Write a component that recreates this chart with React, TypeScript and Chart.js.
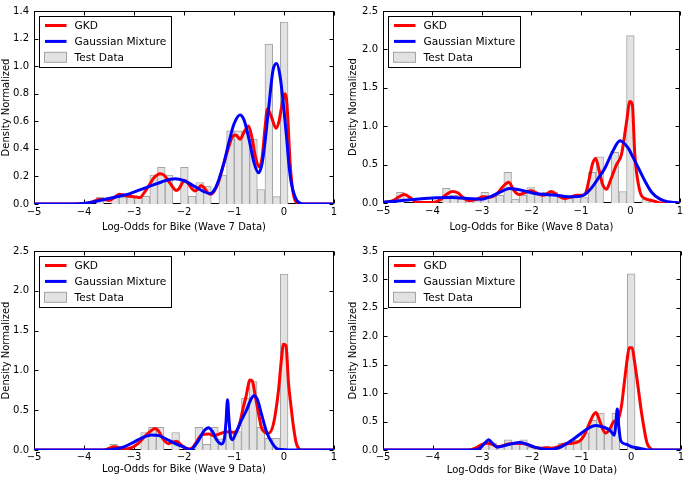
import React, { useEffect, useRef } from 'react';
import { Chart, registerables } from 'chart.js';

Chart.register(...registerables);
Chart.defaults.font.family = '"DejaVu Sans", sans-serif';
Chart.defaults.color = '#000';

// ---------------- shared ----------------
const X_TICKS = [-5, -4, -3, -2, -1, 0, 1];
const LEGEND_ORDER = ['GKD', 'Gaussian Mixture', 'Test Data'];
const Y_LABEL = 'Density Normalized';

// ---------------- Wave 7 ----------------
const W7_TITLE = 'Log-Odds for Bike (Wave 7 Data)';
const W7_Y_TICKS = [0, 0.2, 0.4, 0.6, 0.8, 1.0, 1.2, 1.4];
const W7_HIST_START = -3.7575;
const W7_HIST_WIDTH = 0.1535;
const W7_HIST = [0.05, 0, 0.05, 0.05, 0.05, 0.05, 0.055, 0.21, 0.266, 0.21, 0, 0.266, 0.056, 0.156, 0.13, 0, 0.21, 0.53, 0.53, 0.53, 0.47, 0.105, 1.16, 0.053, 1.32];
const W7_GKD: [number, number][] = [[-5, 0], [-4.2, 0], [-3.95, 0.005], [-3.8, 0.02], [-3.68, 0.035], [-3.58, 0.03], [-3.5, 0.025], [-3.4, 0.045], [-3.29, 0.07], [-3.18, 0.062], [-3.08, 0.056], [-2.95, 0.05], [-2.88, 0.047], [-2.8, 0.08], [-2.71, 0.13], [-2.6, 0.19], [-2.48, 0.22], [-2.4, 0.21], [-2.31, 0.168], [-2.22, 0.12], [-2.16, 0.098], [-2.1, 0.11], [-2.03, 0.155], [-1.98, 0.168], [-1.92, 0.15], [-1.85, 0.115], [-1.78, 0.095], [-1.72, 0.11], [-1.66, 0.135], [-1.6, 0.12], [-1.53, 0.085], [-1.47, 0.07], [-1.4, 0.09], [-1.3, 0.17], [-1.2, 0.3], [-1.1, 0.42], [-1.03, 0.49], [-0.96, 0.5], [-0.88, 0.47], [-0.8, 0.52], [-0.71, 0.565], [-0.64, 0.48], [-0.57, 0.34], [-0.5, 0.27], [-0.44, 0.33], [-0.38, 0.55], [-0.33, 0.69], [-0.25, 0.63], [-0.16, 0.55], [-0.1, 0.6], [-0.04, 0.72], [0.02, 0.8], [0.05, 0.76], [0.08, 0.6], [0.12, 0.31], [0.16, 0.14], [0.2, 0.05], [0.25, 0.01], [0.3, 0], [1, 0]];
const W7_GMM: [number, number][] = [[-5, 0], [-4.2, 0], [-4.0, 0.003], [-3.75, 0.02], [-3.5, 0.04], [-3.2, 0.065], [-3.08, 0.075], [-2.9, 0.1], [-2.68, 0.13], [-2.45, 0.16], [-2.18, 0.184], [-2.0, 0.17], [-1.8, 0.13], [-1.6, 0.09], [-1.47, 0.075], [-1.38, 0.11], [-1.3, 0.18], [-1.2, 0.3], [-1.1, 0.45], [-1.0, 0.58], [-0.88, 0.646], [-0.8, 0.61], [-0.7, 0.47], [-0.6, 0.3], [-0.51, 0.226], [-0.44, 0.29], [-0.38, 0.45], [-0.3, 0.72], [-0.22, 0.97], [-0.147, 1.02], [-0.08, 0.93], [0.0, 0.68], [0.05, 0.49], [0.1, 0.28], [0.15, 0.145], [0.25, 0.03], [0.35, 0.003], [0.45, 0], [1, 0]];

// ---------------- Wave 8 ----------------
const W8_TITLE = 'Log-Odds for Bike (Wave 8 Data)';
const W8_Y_TICKS = [0, 0.5, 1.0, 1.5, 2.0, 2.5];
const W8_HIST_START = -4.727;
const W8_HIST_WIDTH = 0.155;
const W8_HIST = [0.14, 0, 0, 0, 0, 0, 0.19, 0.1, 0.05, 0.03, 0.03, 0.14, 0.08, 0.1, 0.4, 0.05, 0.1, 0.2, 0.13, 0.14, 0.14, 0.08, 0.06, 0.08, 0.07, 0.4, 0.6, 0, 0.66, 0.15, 2.18, 0, 0.05, 0.03];
const W8_GKD: [number, number][] = [[-5, 0.01], [-4.8, 0.03], [-4.68, 0.08], [-4.57, 0.11], [-4.45, 0.07], [-4.32, 0.01], [-4.0, 0.005], [-3.85, 0.04], [-3.72, 0.11], [-3.6, 0.15], [-3.48, 0.13], [-3.38, 0.07], [-3.25, 0.03], [-3.1, 0.05], [-2.98, 0.08], [-2.85, 0.075], [-2.7, 0.12], [-2.58, 0.21], [-2.46, 0.27], [-2.35, 0.16], [-2.25, 0.11], [-2.15, 0.13], [-2.0, 0.16], [-1.87, 0.12], [-1.75, 0.1], [-1.6, 0.15], [-1.47, 0.1], [-1.33, 0.06], [-1.2, 0.08], [-1.08, 0.1], [-0.98, 0.1], [-0.91, 0.12], [-0.82, 0.35], [-0.76, 0.52], [-0.7, 0.58], [-0.63, 0.42], [-0.56, 0.24], [-0.48, 0.18], [-0.4, 0.3], [-0.28, 0.5], [-0.18, 0.63], [-0.08, 1.04], [-0.01, 1.32], [0.04, 1.28], [0.09, 0.63], [0.19, 0.16], [0.29, 0.06], [0.4, 0.04], [0.5, 0.02], [0.6, 0], [1, 0]];
const W8_GMM: [number, number][] = [[-5, 0.01], [-4.5, 0.04], [-4.0, 0.065], [-3.6, 0.07], [-3.3, 0.06], [-3.0, 0.05], [-2.8, 0.09], [-2.6, 0.15], [-2.45, 0.19], [-2.3, 0.18], [-2.1, 0.15], [-1.9, 0.12], [-1.5, 0.1], [-1.18, 0.08], [-1.0, 0.09], [-0.9, 0.12], [-0.78, 0.2], [-0.65, 0.32], [-0.51, 0.46], [-0.35, 0.68], [-0.21, 0.81], [-0.05, 0.72], [0.05, 0.6], [0.16, 0.46], [0.3, 0.28], [0.43, 0.14], [0.6, 0.05], [0.76, 0.016], [0.9, 0.005], [1, 0]];

// ---------------- Wave 9 ----------------
const W9_TITLE = 'Log-Odds for Bike (Wave 9 Data)';
const W9_Y_TICKS = [0, 0.5, 1.0, 1.5, 2.0, 2.5];
const W9_HIST_START = -3.485;
const W9_HIST_WIDTH = 0.155;
const W9_HIST = [0.07, 0, 0, 0, 0.22, 0.285, 0.285, 0, 0.22, 0, 0, 0.285, 0.07, 0.285, 0.14, 0.23, 0.23, 0.65, 0.86, 0.285, 0.147, 0.147, 2.21];
const W9_GKD: [number, number][] = [[-5, 0], [-3.6, 0], [-3.5, 0.02], [-3.4, 0.04], [-3.3, 0.03], [-3.2, 0.01], [-3.05, 0.03], [-2.92, 0.08], [-2.8, 0.16], [-2.68, 0.23], [-2.58, 0.27], [-2.5, 0.23], [-2.42, 0.14], [-2.31, 0.08], [-2.22, 0.1], [-2.15, 0.11], [-2.05, 0.06], [-1.95, 0.015], [-1.85, 0.02], [-1.75, 0.1], [-1.65, 0.19], [-1.5, 0.2], [-1.4, 0.18], [-1.3, 0.2], [-1.15, 0.23], [-1.0, 0.22], [-0.9, 0.3], [-0.82, 0.52], [-0.76, 0.67], [-0.68, 0.88], [-0.63, 0.86], [-0.57, 0.66], [-0.51, 0.46], [-0.45, 0.28], [-0.38, 0.22], [-0.31, 0.21], [-0.21, 0.33], [-0.11, 0.75], [-0.05, 1.15], [-0.01, 1.33], [0.04, 1.31], [0.09, 0.84], [0.14, 0.55], [0.19, 0.29], [0.24, 0.1], [0.29, 0.02], [0.35, 0], [1, 0]];
const W9_GMM: [number, number][] = [[-5, 0], [-3.6, 0], [-3.4, 0.01], [-3.2, 0.04], [-3.0, 0.1], [-2.85, 0.15], [-2.65, 0.19], [-2.5, 0.18], [-2.3, 0.12], [-2.1, 0.06], [-1.95, 0.02], [-1.88, 0.0], [-1.8, 0.04], [-1.7, 0.13], [-1.6, 0.24], [-1.51, 0.28], [-1.43, 0.23], [-1.35, 0.13], [-1.25, 0.075], [-1.19, 0.15], [-1.16, 0.35], [-1.13, 0.63], [-1.1, 0.38], [-1.07, 0.17], [-1.03, 0.13], [-0.97, 0.2], [-0.87, 0.35], [-0.75, 0.5], [-0.65, 0.65], [-0.6, 0.68], [-0.53, 0.63], [-0.45, 0.45], [-0.35, 0.23], [-0.25, 0.1], [-0.15, 0.02], [-0.05, 0.005], [0.1, 0], [1, 0]];

// ---------------- Wave 10 ----------------
const W10_TITLE = 'Log-Odds for Bike (Wave 10 Data)';
const W10_Y_TICKS = [0, 0.5, 1.0, 1.5, 2.0, 2.5, 3.0, 3.5];
const W10_HIST_START = -3.022;
const W10_HIST_WIDTH = 0.155;
const W10_HIST = [0.12, 0.12, 0.08, 0.18, 0.1, 0.18, 0.05, 0.03, 0.06, 0.05, 0.12, 0.13, 0.17, 0.3, 0.52, 0.65, 0.32, 0.65, 0, 3.1];
const W10_GKD: [number, number][] = [[-5, 0], [-3.3, 0], [-3.15, 0.03], [-3.0, 0.1], [-2.9, 0.12], [-2.8, 0.1], [-2.7, 0.06], [-2.6, 0.07], [-2.5, 0.1], [-2.3, 0.12], [-2.1, 0.1], [-1.95, 0.05], [-1.8, 0.03], [-1.7, 0.04], [-1.6, 0.03], [-1.5, 0.05], [-1.35, 0.1], [-1.2, 0.12], [-1.05, 0.15], [-0.95, 0.25], [-0.85, 0.45], [-0.76, 0.62], [-0.71, 0.66], [-0.65, 0.55], [-0.57, 0.36], [-0.51, 0.3], [-0.43, 0.37], [-0.35, 0.5], [-0.27, 0.53], [-0.2, 0.75], [-0.14, 1.17], [-0.08, 1.6], [-0.04, 1.8], [0.02, 1.8], [0.06, 1.6], [0.12, 1.23], [0.22, 0.59], [0.32, 0.12], [0.4, 0.02], [0.45, 0], [1, 0]];
const W10_GMM: [number, number][] = [[-5, 0], [-3.2, 0], [-3.05, 0.03], [-2.95, 0.12], [-2.87, 0.18], [-2.8, 0.12], [-2.69, 0.05], [-2.55, 0.08], [-2.35, 0.12], [-2.25, 0.13], [-2.1, 0.1], [-1.95, 0.05], [-1.85, 0.03], [-1.7, 0.01], [-1.55, 0.02], [-1.4, 0.06], [-1.18, 0.18], [-1.0, 0.3], [-0.85, 0.39], [-0.71, 0.43], [-0.55, 0.4], [-0.42, 0.34], [-0.34, 0.26], [-0.31, 0.45], [-0.28, 0.72], [-0.25, 0.42], [-0.21, 0.16], [-0.1, 0.1], [0.0, 0.06], [0.16, 0.03], [0.3, 0.005], [0.45, 0], [1, 0]];

// ---------------- types & layout ----------------
type PanelData = {
  xTitle: string;
  yTicks: number[];
  histStart: number;
  histWidth: number;
  hist: number[];
  gkd: [number, number][];
  gmm: [number, number][];
};
type PanelLayout = {
  left: number; top: number; width: number; height: number;
  padTop: number; padRight: number; yAxisW: number; xAxisH: number;
  yTitlePad: number; xTitlePad: number; xTickPad: number;
};

const PANELS: { data: PanelData; layout: PanelLayout }[] = [
  {
    data: { xTitle: W7_TITLE, yTicks: W7_Y_TICKS, histStart: W7_HIST_START, histWidth: W7_HIST_WIDTH, hist: W7_HIST, gkd: W7_GKD, gmm: W7_GMM },
    layout: { left: 0, top: 0, width: 342, height: 240, padTop: 4, padRight: 8, yAxisW: 34, xAxisH: 36, yTitlePad: 0, xTitlePad: 6.5, xTickPad: 2 },
  },
  {
    data: { xTitle: W8_TITLE, yTicks: W8_Y_TICKS, histStart: W8_HIST_START, histWidth: W8_HIST_WIDTH, hist: W8_HIST, gkd: W8_GKD, gmm: W8_GMM },
    layout: { left: 342, top: 0, width: 343, height: 240, padTop: 4, padRight: 3, yAxisW: 41, xAxisH: 37, yTitlePad: 5, xTitlePad: 6.5, xTickPad: 2 },
  },
  {
    data: { xTitle: W9_TITLE, yTicks: W9_Y_TICKS, histStart: W9_HIST_START, histWidth: W9_HIST_WIDTH, hist: W9_HIST, gkd: W9_GKD, gmm: W9_GMM },
    layout: { left: 0, top: 240, width: 342, height: 239, padTop: 11, padRight: 8, yAxisW: 34, xAxisH: 29, yTitlePad: 0, xTitlePad: 4, xTickPad: 1 },
  },
  {
    data: { xTitle: W10_TITLE, yTicks: W10_Y_TICKS, histStart: W10_HIST_START, histWidth: W10_HIST_WIDTH, hist: W10_HIST, gkd: W10_GKD, gmm: W10_GMM },
    layout: { left: 342, top: 240, width: 343, height: 239, padTop: 11, padRight: 3, yAxisW: 41, xAxisH: 29, yTitlePad: 5, xTitlePad: 3, xTickPad: 1 },
  },
];

// ---------------- plugins ----------------
const framePlugin = {
  id: 'mplFrame',
  beforeDatasetsDraw(chart: any) {
    const { ctx, chartArea: a, scales } = chart;
    const xs = scales.x, ys = scales.y;
    const L = Math.round(a.left) + 0.5, R = Math.round(a.right) - 0.5;
    const T = Math.round(a.top) + 0.5, B = Math.round(a.bottom) - 0.5;
    ctx.save();
    ctx.strokeStyle = '#000';
    ctx.lineWidth = 1;
    ctx.strokeRect(L, T, R - L, B - T);
    ctx.beginPath();
    xs.ticks.forEach((t: any) => {
      const px = Math.round(xs.getPixelForValue(t.value)) + 0.5;
      ctx.moveTo(px, B); ctx.lineTo(px, B - 4);
      ctx.moveTo(px, T); ctx.lineTo(px, T + 4);
    });
    ys.ticks.forEach((t: any) => {
      const py = Math.round(ys.getPixelForValue(t.value)) + 0.5;
      ctx.moveTo(L, py); ctx.lineTo(L + 4, py);
      ctx.moveTo(R, py); ctx.lineTo(R - 4, py);
    });
    ctx.stroke();
    ctx.restore();
  },
};

const legendPlugin = {
  id: 'mplLegend',
  afterDraw(chart: any) {
    const { ctx, chartArea: a } = chart;
    const items = LEGEND_ORDER.map((lbl) => chart.data.datasets.find((d: any) => d.label === lbl)).filter(Boolean);
    ctx.save();
    ctx.font = '10.6px "DejaVu Sans", sans-serif';
    const textW = Math.max(...items.map((d: any) => ctx.measureText(d.label).width));
    const bx = Math.round(a.left + 5) + 0.5;
    const by = Math.round(a.top + 5) + 0.5;
    const bw = Math.round(35 + textW + 5);
    const bh = 51;
    ctx.fillStyle = '#fff';
    ctx.fillRect(bx, by, bw, bh);
    ctx.strokeStyle = '#000';
    ctx.lineWidth = 1;
    ctx.strokeRect(bx, by, bw, bh);
    items.forEach((d: any, i: number) => {
      const cy = by + 9 + i * 15.9;
      if (d.type === 'line') {
        ctx.strokeStyle = d.borderColor;
        ctx.lineWidth = 3;
        ctx.beginPath();
        ctx.moveTo(bx + 5.5, cy);
        ctx.lineTo(bx + 27, cy);
        ctx.stroke();
      } else {
        ctx.fillStyle = d.backgroundColor;
        ctx.fillRect(bx + 5, cy - 5, 22, 10);
        ctx.strokeStyle = d.borderColor;
        ctx.lineWidth = 1;
        ctx.strokeRect(bx + 5, cy - 5, 22, 10);
      }
      ctx.fillStyle = '#000';
      ctx.textBaseline = 'middle';
      ctx.textAlign = 'left';
      ctx.fillText(d.label, bx + 35, cy + 0.5);
    });
    ctx.restore();
  },
};

const fmtX = (v: number) => (v < 0 ? '\u2212' + Math.abs(v) : String(v));

function Panel({ data, layout }: { data: PanelData; layout: PanelLayout }) {
  const ref = useRef<HTMLCanvasElement>(null);
  useEffect(() => {
    const bars = data.hist
      .map((h, i) => ({ x: data.histStart + data.histWidth * (i + 0.5), y: h }))
      .filter((d) => d.y > 0);
    const toPts = (arr: [number, number][]) => arr.map(([x, y]) => ({ x, y }));
    const yMax = data.yTicks[data.yTicks.length - 1];
    const chart = new Chart(ref.current as HTMLCanvasElement, {
      type: 'bar',
      data: {
        datasets: [
          {
            type: 'line', label: 'Gaussian Mixture', data: toPts(data.gmm),
            borderColor: '#0000ff', borderWidth: 3, pointRadius: 0, fill: false,
            cubicInterpolationMode: 'monotone', borderJoinStyle: 'round', order: 0,
          } as any,
          {
            type: 'line', label: 'GKD', data: toPts(data.gkd),
            borderColor: '#ff0000', borderWidth: 3, pointRadius: 0, fill: false,
            cubicInterpolationMode: 'monotone', borderJoinStyle: 'round', order: 1,
          } as any,
          {
            type: 'bar', label: 'Test Data', data: bars,
            backgroundColor: '#e2e2e2', borderColor: '#a3a3a3', borderWidth: 1,
            barPercentage: 1, categoryPercentage: 1, order: 2,
          } as any,
        ],
      },
      options: {
        responsive: false,
        animation: false,
        devicePixelRatio: 1,
        layout: { padding: { left: 0, right: layout.padRight, top: layout.padTop, bottom: 0 } },
        plugins: { legend: { display: false }, tooltip: { enabled: false } },
        scales: {
          x: {
            type: 'linear', min: -5, max: 1, offset: false,
            grid: { display: false, drawTicks: false },
            border: { display: false },
            afterBuildTicks: (s: any) => { s.ticks = X_TICKS.map((v) => ({ value: v })); },
            afterFit: (s: any) => { s.height = layout.xAxisH; },
            ticks: { padding: layout.xTickPad, color: '#000', font: { size: 10 }, maxRotation: 0, autoSkip: false, callback: (v: any) => fmtX(Number(v)) },
            title: { display: true, text: data.xTitle, color: '#000', font: { size: 10 }, padding: { top: 0, bottom: layout.xTitlePad } },
          },
          y: {
            type: 'linear', min: 0, max: yMax,
            grid: { display: false, drawTicks: false },
            border: { display: false },
            afterBuildTicks: (s: any) => { s.ticks = data.yTicks.map((v) => ({ value: v })); },
            afterFit: (s: any) => { s.width = layout.yAxisW; },
            ticks: { padding: 5, color: '#000', font: { size: 10 }, autoSkip: false, callback: (v: any) => Number(v).toFixed(1) },
            title: { display: true, text: Y_LABEL, color: '#000', font: { size: 10 }, padding: { top: layout.yTitlePad, bottom: 0 } },
          },
        },
      } as any,
      plugins: [framePlugin, legendPlugin],
    });
    return () => chart.destroy();
  }, []);
  return (
    <canvas
      ref={ref}
      width={layout.width}
      height={layout.height}
      style={{ position: 'absolute', left: layout.left, top: layout.top, width: layout.width, height: layout.height }}
    />
  );
}

export default function App() {
  return (
    <div style={{ position: 'absolute', left: 0, top: 0, width: 685, height: 479, background: '#fff' }}>
      {PANELS.map((p, i) => (
        <Panel key={i} data={p.data} layout={p.layout} />
      ))}
    </div>
  );
}
